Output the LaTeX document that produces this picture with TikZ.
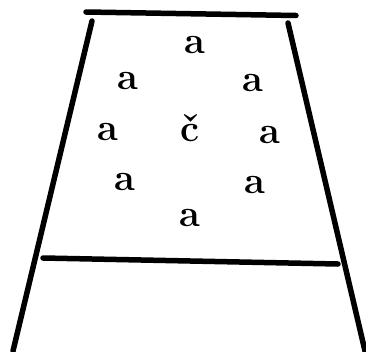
\documentclass[tikz,border=0pt]{standalone}
\usepackage{tikz}
\usetikzlibrary{positioning}

\tikzset{
  letter/.style={font=\fontsize{38}{38}\selectfont\bfseries, inner sep=0pt},
  edge/.style={line width=5.5pt, line cap=round}
}

\begin{document}
\begin{tikzpicture}[x=1pt,y=-1pt]
  \useasboundingbox (0,0) rectangle (366,351);
  \draw[edge] (86,12) -- (296,15.5);
  \draw[edge] (92,21) -- (13,351);
  \draw[edge] (288,23) -- (365,351);
  \draw[edge] (43,258) -- (338,264);
  \node[letter] (top) at (195,45) {a};
  \node[letter] (upleft) at (128,81) {a};
  \node[letter] (upright) at (253,83) {a};
  \node[letter] (midleft) at (108,132) {a};
  \node[letter,anchor=base] (centre) at (190,141) {č};
  \node[letter] (midright) at (270,135) {a};
  \node[letter] (lowleft) at (125,182) {a};
  \node[letter] (lowright) at (255,185) {a};
  \node[letter] (bottom) at (190,218) {a};
\end{tikzpicture}
\end{document}
